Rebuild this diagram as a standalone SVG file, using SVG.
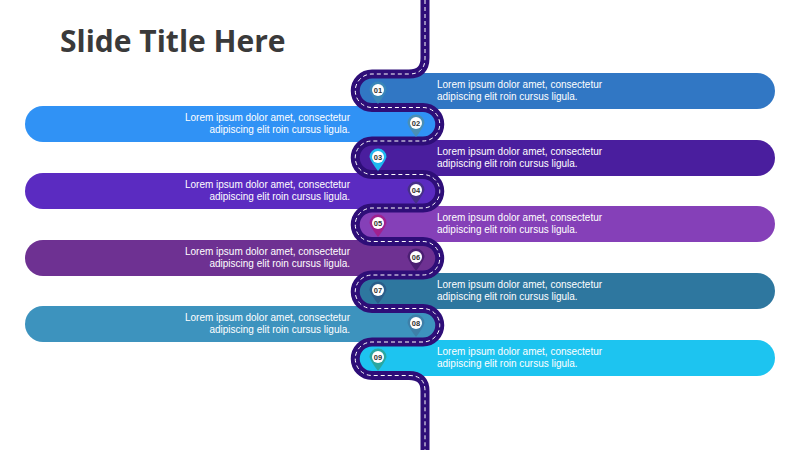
<svg xmlns="http://www.w3.org/2000/svg" width="800" height="450" viewBox="0 0 800 450">
<style>
.t{font-family:"Liberation Sans",sans-serif;font-size:10px;fill:#fff}
.r{text-anchor:end}
.n{font-family:"Liberation Sans",sans-serif;font-size:7.5px;font-weight:bold;fill:#333;text-anchor:middle}
.title{font-family:"Open Sans","Liberation Sans",sans-serif;font-size:30px;font-weight:bold;fill:#3a3a3a}
</style>
<defs>
<g id="pin"><path d="M-8.5,0 A8.5,8.5 0 1 1 8.5,0 Q7,5 0,14 Q-7,5 -8.5,0Z"/><circle r="6" fill="#fff"/></g>
</defs>
<text class="title" x="60" y="52">Slide Title Here</text>
<g id="bars">
<rect x="355" y="73" width="420" height="36" rx="18" fill="#3177C4"/>
<rect x="25" y="106" width="415" height="36" rx="18" fill="#3092F5"/>
<rect x="355" y="140" width="420" height="36" rx="18" fill="#4A1E9E"/>
<rect x="25" y="173" width="415" height="36" rx="18" fill="#5B2BC1"/>
<rect x="355" y="206" width="420" height="36" rx="18" fill="#8540B8"/>
<rect x="25" y="240" width="415" height="36" rx="18" fill="#6E3192"/>
<rect x="355" y="273" width="420" height="36" rx="18" fill="#2E779F"/>
<rect x="25" y="306" width="415" height="36" rx="18" fill="#3D93BE"/>
<rect x="355" y="340" width="420" height="36" rx="18" fill="#1DC4F0"/>
</g>
<g id="road" fill="none">
<path d="M425,0 V58 Q425,74 409,74 H372 A16.7,16.7 0 0 0 372,107.5 H423 A16.7,16.7 0 0 1 423,141 H372 A16.7,16.7 0 0 0 372,174.5 H423 A16.7,16.7 0 0 1 423,208 H372 A16.7,16.7 0 0 0 372,241.5 H423 A16.7,16.7 0 0 1 423,275 H372 A16.7,16.7 0 0 0 372,308.5 H423 A16.7,16.7 0 0 1 423,342 H372 A16.7,16.7 0 0 0 372,375.5 H409 Q425,375.5 425,391 V450" stroke="#2E0E78" stroke-width="9"/>
<path d="M425,0 V58 Q425,74 409,74 H372 A16.7,16.7 0 0 0 372,107.5 H423 A16.7,16.7 0 0 1 423,141 H372 A16.7,16.7 0 0 0 372,174.5 H423 A16.7,16.7 0 0 1 423,208 H372 A16.7,16.7 0 0 0 372,241.5 H423 A16.7,16.7 0 0 1 423,275 H372 A16.7,16.7 0 0 0 372,308.5 H423 A16.7,16.7 0 0 1 423,342 H372 A16.7,16.7 0 0 0 372,375.5 H409 Q425,375.5 425,391 V450" stroke="#fff" stroke-width="1" stroke-dasharray="4,3"/>
</g>
<g id="texts">
<text class="t" x="437" y="88">Lorem ipsum dolor amet, consectetur</text><text class="t" x="437" y="100">adipiscing elit roin cursus ligula.</text>
<text class="t r" x="350" y="121">Lorem ipsum dolor amet, consectetur</text><text class="t r" x="350" y="133">adipiscing elit roin cursus ligula.</text>
<text class="t" x="437" y="155">Lorem ipsum dolor amet, consectetur</text><text class="t" x="437" y="167">adipiscing elit roin cursus ligula.</text>
<text class="t r" x="350" y="188">Lorem ipsum dolor amet, consectetur</text><text class="t r" x="350" y="200">adipiscing elit roin cursus ligula.</text>
<text class="t" x="437" y="221">Lorem ipsum dolor amet, consectetur</text><text class="t" x="437" y="233">adipiscing elit roin cursus ligula.</text>
<text class="t r" x="350" y="255">Lorem ipsum dolor amet, consectetur</text><text class="t r" x="350" y="267">adipiscing elit roin cursus ligula.</text>
<text class="t" x="437" y="288">Lorem ipsum dolor amet, consectetur</text><text class="t" x="437" y="300">adipiscing elit roin cursus ligula.</text>
<text class="t r" x="350" y="321">Lorem ipsum dolor amet, consectetur</text><text class="t r" x="350" y="333">adipiscing elit roin cursus ligula.</text>
<text class="t" x="437" y="355">Lorem ipsum dolor amet, consectetur</text><text class="t" x="437" y="367">adipiscing elit roin cursus ligula.</text>
</g>
<g id="p1" transform="translate(378,90)" fill="#3A86B8"><use href="#pin"/><text class="n" y="2.7">01</text></g>
<g id="p2" transform="translate(416,123)" fill="#4A8FB5"><use href="#pin"/><text class="n" y="2.7">02</text></g>
<g id="p3" transform="translate(378,157)" fill="#1EB8F0"><use href="#pin"/><text class="n" y="2.7">03</text></g>
<g id="p4" transform="translate(416,190)" fill="#463088"><use href="#pin"/><text class="n" y="2.7">04</text></g>
<g id="p5" transform="translate(378,223)" fill="#A0208F"><use href="#pin"/><text class="n" y="2.7">05</text></g>
<g id="p6" transform="translate(416,257)" fill="#4B1F73"><use href="#pin"/><text class="n" y="2.7">06</text></g>
<g id="p7" transform="translate(378,290)" fill="#2B5E8A"><use href="#pin"/><text class="n" y="2.7">07</text></g>
<g id="p8" transform="translate(416,323)" fill="#3E7FA8"><use href="#pin"/><text class="n" y="2.7">08</text></g>
<g id="p9" transform="translate(378,357)" fill="#2AA7A0"><use href="#pin"/><text class="n" y="2.7">09</text></g>
</svg>
